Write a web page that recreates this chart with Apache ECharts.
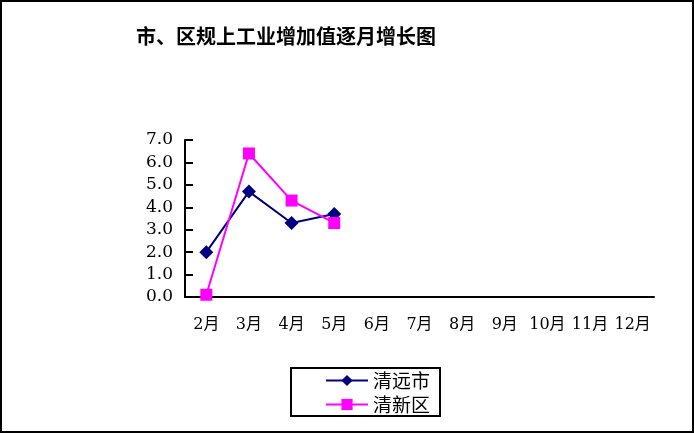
<!DOCTYPE html>
<html>
<head>
<meta charset="utf-8">
<script src="https://cdn.jsdelivr.net/npm/echarts@6/dist/echarts.min.js"></script>
<style>
html,body{margin:0;padding:0;background:#fff;}
#box{width:694px;height:433px;box-sizing:border-box;border:2px solid #000;}
#main{width:690px;height:429px;}
</style>
</head>
<body>
<div id="box"><div id="main"></div></div>
<script>
var months = ['2月','3月','4月','5月','6月','7月','8月','9月','10月','11月','12月'];
var qingyuan = [2.0, 4.7, 3.3, 3.7];
var qingxin = [0.1, 6.4, 4.3, 3.3];
var yTicks = [0, 7, 1];

var myChart = echarts.init(document.getElementById('main'));
var numFont = 'DejaVu Serif, Noto Sans CJK SC';

option = {
    backgroundColor: '#fff',
    animation: false,
    title: {
        text: '市、区规上工业增加值逐月增长图',
        left: 129,
        top: 19,
        textStyle: {
            fontFamily: 'Noto Sans CJK SC',
            fontSize: 20,
            fontWeight: 'bold',
            color: '#000'
        }
    },
    grid: {
        left: 183,
        right: 38,
        top: 138,
        bottom: 134
    },
    legend: {
        orient: 'vertical',
        left: 289,
        top: 366,
        width: 180,
        height: 50,
        padding: [3, 10, 2, 34],
        itemGap: 5,
        itemWidth: 42,
        itemHeight: 14,
        borderColor: '#000',
        borderWidth: 2,
        textStyle: {
            fontFamily: 'Noto Sans CJK SC',
            fontSize: 19,
            color: '#000'
        },
        data: ['清远市', '清新区']
    },
    xAxis: {
        type: 'category',
        data: months,
        boundaryGap: true,
        axisLine: { lineStyle: { color: '#000', width: 2 } },
        axisTick: { inside: true, length: 7, lineStyle: { color: '#000', width: 2 } },
        axisLabel: {
            interval: 0,
            margin: 20,
            fontFamily: numFont,
            fontSize: 16,
            color: '#000'
        }
    },
    yAxis: {
        type: 'value',
        min: yTicks[0],
        max: yTicks[1],
        interval: yTicks[2],
        splitLine: { show: false },
        axisLine: { show: true, lineStyle: { color: '#000', width: 2 } },
        axisTick: { show: true, inside: true, length: 8, lineStyle: { color: '#000', width: 2 } },
        axisLabel: {
            margin: 12,
            fontFamily: numFont,
            fontSize: 17,
            color: '#000',
            formatter: function (v) { return v.toFixed(1); }
        }
    },
    series: [{
        name: '清远市',
        type: 'line',
        data: qingyuan,
        symbol: 'diamond',
        symbolSize: 14,
        lineStyle: { color: '#000080', width: 2 },
        itemStyle: { color: '#000080' }
    }, {
        name: '清新区',
        type: 'line',
        data: qingxin,
        symbol: 'rect',
        symbolSize: 12,
        lineStyle: { color: '#ff00ff', width: 2 },
        itemStyle: { color: '#ff00ff' }
    }]
};
myChart.setOption(option);
</script>
</body>
</html>
